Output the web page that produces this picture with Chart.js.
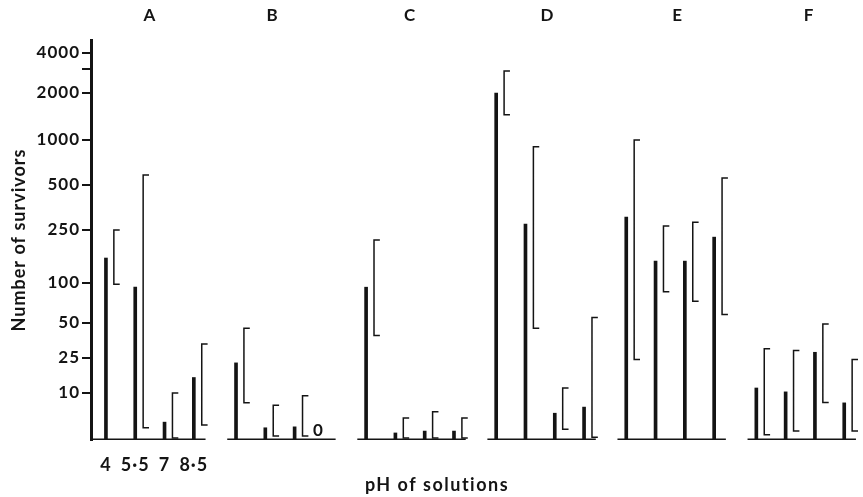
<!DOCTYPE html>
<html>
<head>
<meta charset="utf-8">
<script src="https://cdn.jsdelivr.net/npm/chart.js@4.4.0/dist/chart.umd.min.js"></script>
<style>
  html, body { margin: 0; padding: 0; background: #fff; }
  #wrap { width: 863px; height: 497px; }
</style>
</head>
<body>
<div id="wrap"><canvas id="survivorsChart" width="863" height="497"></canvas></div>
<script>
const panels = ['A', 'B', 'C', 'D', 'E', 'F'];
const phLabels = ['4', '5·5', '7', '8·5'];

// survivors at pH 4, 5.5, 7, 8.5 and the bracketed range for each
const meanA = [154, 93, 3.8, 15];
const rangeA = [[98, 250], [2.6, 583], [0.4, 10], [3.2, 33]];
const meanB = [22, 2.6, 2.8, 0];
const rangeB = [[7.9, 45], [0.85, 7.4], [0.85, 9.4], null];
const meanC = [93, 1.5, 1.9, 1.9];
const rangeC = [[39, 210], [0.4, 4.7], [0.4, 6], [0.4, 4.7]];
const meanD = [2000, 274, 5.7, 7];
const rangeD = [[1450, 2900], [45, 900], [2.3, 11.4], [0.6, 55]];
const meanE = [305, 146, 146, 221];
const rangeE = [[24, 1000], [86, 266], [73, 282], [58, 557]];
const meanF = [11.4, 10.3, 28, 7.9];
const rangeF = [[1.1, 30], [1.9, 29], [8, 49], [1.9, 24]];

const yTickValues = [10, 25, 50, 100, 250, 500, 1000, 2000, 3000, 4000];
const yTickLabels = ['10', '25', '50', '100', '250', '500', '1000', '2000', '', '4000'];

// the printed axis is not a clean log scale: ticks sit at these heights (axis units),
// values in between are placed on a log step between the two neighbouring ticks
const yTickUnits = [47, 82, 117, 157, 210, 255, 300, 347, 371, 387];

function toUnit(v) {
    if (v <= yTickValues[0]) return v / yTickValues[0] * yTickUnits[0];
    let i = 0;
    while (i < yTickValues.length - 2 && v > yTickValues[i + 1]) i++;
    const v0 = yTickValues[i], v1 = yTickValues[i + 1];
    const u0 = yTickUnits[i], u1 = yTickUnits[i + 1];
    return u0 + (u1 - u0) * Math.log(v / v0) / Math.log(v1 / v0);
}

const STRIDE = 4.44;       // distance between panels, in bar slots
const X_MIN = -0.51;
const X_MAX = 25.67;
const BRACKET_DX = 0.27;
const SERIF = 0.2;
const letterShift = [1.5, 1.25, 1.5, 1.75, 1.75, 1.8];   // panel letter offset inside its panel

const means = [meanA, meanB, meanC, meanD, meanE, meanF];
const ranges = [rangeA, rangeB, rangeC, rangeD, rangeE, rangeF];

const barPoints = [];
const bracketPoints = [];
const basePoints = [];
means.forEach((m, p) => {
    m.forEach((v, j) => {
        const x = p * STRIDE + j;
        barPoints.push({ x: x, y: toUnit(v) });
        const r = ranges[p][j];
        if (r) {
            const xb = x + BRACKET_DX;
            bracketPoints.push({ x: xb + SERIF, y: toUnit(r[1]) });
            bracketPoints.push({ x: xb, y: toUnit(r[1]) });
            bracketPoints.push({ x: xb, y: toUnit(r[0]) });
            bracketPoints.push({ x: xb + SERIF, y: toUnit(r[0]) });
            bracketPoints.push({ x: xb + SERIF, y: null });
        }
    });
    basePoints.push({ x: p === 0 ? X_MIN : p * STRIDE - 0.3, y: 0 });
    basePoints.push({ x: p * STRIDE + 3.4, y: 0 });
    basePoints.push({ x: p * STRIDE + 3.4, y: null });
});

const INK = '#141414';
const FONT = 'Lato, "DejaVu Sans", sans-serif';

// wider letter spacing, closer to the printed typeface
const spacing = {
    id: 'spacing',
    beforeDraw(chart) { chart.ctx.letterSpacing = '1px'; }
};

// the "0" for the missing bar in panel B, and the x axis title (it sits left of centre)
const extraText = {
    id: 'extraText',
    afterDraw(chart) {
        const xs = chart.scales.x, ys = chart.scales.y;
        const ctx = chart.ctx;
        ctx.save();
        ctx.fillStyle = INK;
        ctx.textAlign = 'center';
        ctx.textBaseline = 'alphabetic';
        ctx.letterSpacing = '0px';
        ctx.font = 'bold 17px ' + FONT;
        ctx.fillText('0', xs.getPixelForValue(1 * STRIDE + 3 - 0.2), ys.getPixelForValue(0) - 4);
        ctx.letterSpacing = '1.5px';
        ctx.font = 'bold 18px ' + FONT;
        ctx.fillText('pH of solutions', xs.getPixelForValue(11.3), chart.height - 6);
        ctx.restore();
    }
};

const ctx = document.getElementById('survivorsChart').getContext('2d');
new Chart(ctx, {
    type: 'bar',
    data: {
        datasets: [
            {
                type: 'bar',
                data: barPoints,
                backgroundColor: INK,
                barThickness: 3,
                grouped: false,
                xAxisID: 'x',
                yAxisID: 'y'
            },
            {
                type: 'line',
                data: bracketPoints,
                borderColor: INK,
                borderWidth: 1.5,
                pointRadius: 0,
                spanGaps: false,
                fill: false,
                xAxisID: 'x',
                yAxisID: 'y'
            },
            {
                type: 'line',
                data: basePoints,
                borderColor: INK,
                borderWidth: 3,
                pointRadius: 0,
                spanGaps: false,
                fill: false,
                xAxisID: 'x',
                yAxisID: 'y'
            }
        ]
    },
    options: {
        responsive: false,
        devicePixelRatio: 1,
        animation: false,
        layout: { padding: { left: 0, right: 5, top: 0, bottom: 0 } },
        plugins: {
            legend: { display: false },
            tooltip: { enabled: false }
        },
        scales: {
            x: {
                type: 'linear',
                position: 'bottom',
                min: X_MIN,
                max: X_MAX,
                offset: false,
                afterBuildTicks: s => { s.ticks = phLabels.map((_, j) => ({ value: j })); },
                afterFit: s => { s.height = 57; },
                ticks: {
                    callback: (v, i) => phLabels[i],
                    autoSkip: false,
                    maxRotation: 0,
                    padding: 14,
                    color: INK,
                    font: { family: FONT, size: 18, weight: 'bold' }
                },
                grid: { display: false, drawTicks: false },
                border: { display: false }
            },
            xTop: {
                type: 'linear',
                axis: 'x',
                position: 'top',
                min: X_MIN,
                max: X_MAX,
                offset: false,
                afterBuildTicks: s => { s.ticks = panels.map((_, p) => ({ value: p * STRIDE + letterShift[p] })); },
                afterFit: s => { s.height = 40; },
                ticks: {
                    callback: (v, i) => panels[i],
                    autoSkip: false,
                    maxRotation: 0,
                    padding: 14,
                    color: INK,
                    font: { family: FONT, size: 17, weight: 'bold' }
                },
                grid: { display: false, drawTicks: false },
                border: { display: false }
            },
            y: {
                type: 'linear',
                min: 0,
                max: 400,
                afterBuildTicks: s => { s.ticks = yTickValues.map(v => ({ value: toUnit(v) })); },
                afterFit: s => { s.width = 91; },
                ticks: {
                    callback: (v, i) => yTickLabels[i],
                    autoSkip: false,
                    padding: 2,
                    color: INK,
                    font: { family: FONT, size: 17, weight: 'bold' }
                },
                grid: {
                    drawOnChartArea: false,
                    drawTicks: true,
                    tickLength: 9,
                    lineWidth: 2,
                    color: INK
                },
                border: { display: true, width: 3, color: INK },
                title: {
                    display: true,
                    text: 'Number of survivors',
                    color: INK,
                    padding: { top: 8, bottom: 0 },
                    font: { family: FONT, size: 18, weight: 'bold' }
                }
            }
        }
    },
    plugins: [spacing, extraText]
});
</script>
</body>
</html>
